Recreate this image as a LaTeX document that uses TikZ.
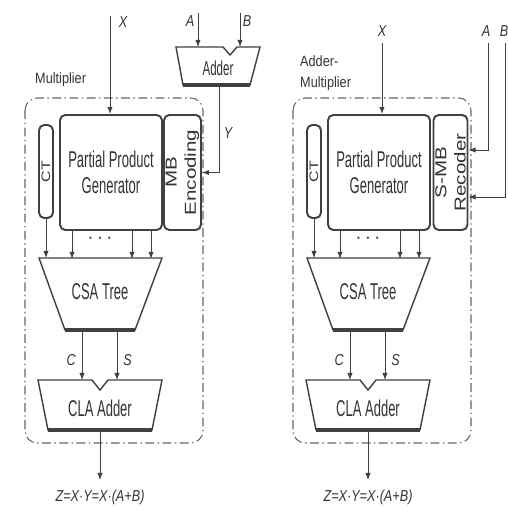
\documentclass[tikz,border=0pt]{standalone}
\usepackage{fontspec}
\setmainfont{Liberation Sans}
\newfontfamily\boxfont[FakeStretch=0.57]{Liberation Sans}
\newfontfamily\sigfont[FakeStretch=0.8]{Liberation Sans}
\newfontfamily\tagfont[FakeStretch=0.85]{Liberation Sans}
\newfontfamily\vertfont[FakeStretch=1.3]{Liberation Sans}
\usetikzlibrary{arrows.meta}

\begin{document}
\begin{tikzpicture}[x=0.02cm,y=-0.02cm,
  blk/.style={draw=black!75,line width=1.1pt,fill=white,rounded corners=3pt,inner sep=1pt,text=black!80},
  unit/.style={draw=black!75,line width=0.8pt,fill=white},
  wire/.style={draw=black!75,line width=0.5pt,-{Latex[length=4pt,width=3pt]}},
  sig/.style={font=\sigfont\itshape\fontsize{9}{10}\selectfont,text=black!80},
  txt/.style={font=\boxfont\fontsize{13}{15}\selectfont,text=black!80,align=center},
  tag/.style={font=\tagfont\fontsize{8.5}{12}\selectfont,text=black!80,align=left,anchor=west},
  frame/.style={draw=black!60,line width=0.6pt,dash pattern=on 5pt off 2pt on 0.8pt off 2pt,rounded corners=7pt}]
  \useasboundingbox (0,0) rectangle (507,510);

  % the two multipliers share everything below the inputs
  \foreach \dx/\s/\side in {0/l/{MB\\Encoding},268/r/{S-MB\\Recoder}}{
    \begin{scope}[shift={(\dx,0)}]
      \draw[frame] (25,98) rectangle (203,443);
      \node[blk,rotate=90,minimum width=1.86cm,minimum height=0.28cm,inner sep=0pt,
            font=\vertfont\fontsize{7}{8}\selectfont] (ct\s) at (46,171.5) {CT};
      \node[blk,txt,minimum width=2.04cm,minimum height=2.3cm] (ppg\s) at (111,172.5) {Partial Product\\Generator};
      \node[blk,rotate=90,minimum width=2.3cm,minimum height=0.66cm,align=center,
            font=\vertfont\fontsize{9}{11}\selectfont] (enc\s) at (182.5,172.5) {\side};
      % CSA tree
      \draw[unit] (39,258) -- (162,258) -- (135,330) -- (65,330) -- cycle;
      \draw[line width=2pt,black!75] (65,330) -- (135,330);
      \node[txt] (csa\s) at (100,292) {CSA Tree};
      \coordinate (csain\s) at (100,258);
      \draw[wire] (ct\s.west) -- (ct\s.west |- csain\s);
      \foreach \o in {13,73,92}
        \draw[wire] ([xshift=\o*0.02cm]ppg\s.south west) -- ++(0,28);
      \node[txt] (dots\s) at (100,239) {$\cdots$};
      % CLA adder
      \draw[unit] (38,380) -- (92,380) -- (100,390) -- (108,380) -- (162,380)
        -- (152,430) -- (48,430) -- cycle;
      \draw[line width=2pt,black!75] (48,430) -- (152,430);
      \node[txt] (cla\s) at (100,408) {CLA Adder};
      \coordinate (c\s) at (82,330);
      \coordinate (s\s) at (117,330);
      \coordinate (cout\s) at (100,430);
      \draw[wire] (c\s) -- ++(0,50) node[sig,pos=0.6,left] (lc\s) {C};
      \draw[wire] (s\s) -- ++(0,50) node[sig,pos=0.6,right] (ls\s) {S};
      \draw[wire] (cout\s) -- ++(0,50);
      \node[sig] (z\s) at (100,497) {Z=X·Y=X·(A+B)};
    \end{scope}
  }

  % left: adder in front of the multiplier
  \node[tag] (ml) at (29,80) {Multiplier};
  \node[sig] (xl) at (123,22) {X};
  \coordinate (xtop) at (110,16);
  \draw[wire] (xtop) -- (xtop |- ppgl.north);
  \draw[unit] (176,47) -- (223,47) -- (230,55) -- (237,47) -- (260,47) -- (250,85) -- (183,85) -- cycle;
  \draw[line width=2pt,black!75] (183,85) -- (250,85);
  \node[txt,font=\boxfont\fontsize{11.5}{13}\selectfont] (add) at (218,68) {Adder};
  \node[sig] (al) at (190,21) {A};
  \node[sig] (bl) at (247,21) {B};
  \coordinate (ain) at (198,13);
  \coordinate (bin) at (240,13);
  \draw[wire] (ain) -- ++(0,34);
  \draw[wire] (bin) -- ++(0,34);
  \coordinate (yout) at (219,85);
  \draw[wire] (yout) |- (encl.south);
  \node[sig] (yl) at (228,133) {Y};

  % right: operands go straight into the recoder
  \node[tag] (aml) at (294,73) {Adder-\\Multiplier};
  \node[sig] (xr) at (382,31) {X};
  \draw[wire] (xr.south) -- (xr.south |- ppgr.north);
  \node[sig] (ar) at (486,31) {A};
  \node[sig] (br) at (504,31) {B};
  \coordinate (abend) at (488,150);
  \coordinate (bbend) at (505,197);
  \draw[wire] (abend |- ar.south) -- (abend) -- (encr.south |- abend);
  \draw[wire] (bbend |- br.south) -- (bbend) -- (encr.south |- bbend);
\end{tikzpicture}
\end{document}
